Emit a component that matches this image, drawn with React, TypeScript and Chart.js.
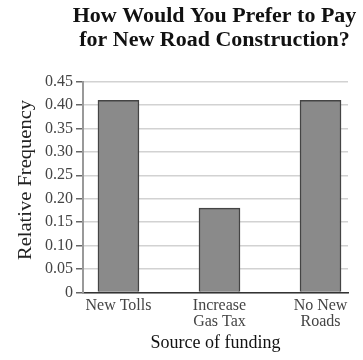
import React, { useEffect, useRef } from "react";
import { Chart, registerables } from "chart.js";

Chart.register(...registerables);

const titleLines = ["How Would You Prefer to Pay", "for New Road Construction?"];
const categories: (string | string[])[] = ["New Tolls", ["Increase", "Gas Tax"], ["No New", "Roads"]];
const frequencies = [0.41, 0.18, 0.41];
const yMax = 0.45;
const yStep = 0.05;
const yAxisTitle = "Relative Frequency";
const xAxisTitle = "Source of funding";

const SERIF = "'Liberation Serif', 'Times New Roman', serif";

const textPlugin = {
  id: "customTexts",
  afterDraw(chart: any) {
    const { ctx, chartArea } = chart;
    const cx = (chartArea.left + chartArea.right) / 2;
    ctx.save();
    ctx.font = `bold 20px ${SERIF}`;
    ctx.fillStyle = "#111";
    ctx.textAlign = "center";
    ctx.textBaseline = "middle";
    titleLines.forEach((t, i) => {
      ctx.save();
      ctx.translate(cx - 1, 17 + i * 24);
      ctx.scale(1.1, 1);
      ctx.fillText(t, 0, 0);
      ctx.restore();
    });
    // y axis title
    ctx.save();
    ctx.font = `19px ${SERIF}`;
    ctx.fillStyle = "#222";
    ctx.translate(26, 180);
    ctx.rotate(-Math.PI / 2);
    ctx.scale(1.08, 1);
    ctx.fillText(yAxisTitle, 0, 0);
    ctx.restore();
    ctx.restore();
  },
};

export default function App() {
  const ref = useRef<HTMLCanvasElement | null>(null);
  useEffect(() => {
    if (!ref.current) return;
    const chart = new Chart(ref.current, {
      type: "bar",
      data: {
        datasets: [
          {
            data: frequencies.map((v, i) => ({ x: i, y: v })),
            backgroundColor: "#8a8a8a",
            borderColor: "#444",
            borderWidth: 1.5,
            barThickness: 41,
          } as any,
        ],
      },
      plugins: [textPlugin],
      options: {
        animation: false,
        responsive: true,
        maintainAspectRatio: false,
        layout: { padding: { top: 81.5, left: 10, right: 15, bottom: 0 } },
        plugins: { legend: { display: false }, tooltip: { enabled: false }, title: { display: false } },
        scales: {
          x: {
            type: "linear",
            offset: false,
            min: -0.351,
            max: 2.272,
            afterBuildTicks: (axis: any) => {
              axis.ticks = categories.map((_, i) => ({ value: i }));
            },
            afterFit: (scale: any) => {
              scale.height = 67.5;
            },
            grid: { display: false, drawTicks: false, offset: false },
            border: { display: true, color: "#333", width: 1.5 },
            ticks: {
              padding: 5,
              maxRotation: 0,
              autoSkip: false,
              color: "#444",
              font: { family: SERIF, size: 16, lineHeight: 1.0 },
              callback: (value: any) => categories[value as number],
            },
            title: {
              display: true,
              text: xAxisTitle,
              color: "#111",
              font: { family: SERIF, size: 18 },
              padding: { top: 0, bottom: 6 },
            },
          },
          y: {
            min: 0,
            max: yMax,
            afterFit: (scale: any) => {
              scale.width = 73;
            },
            grid: { color: "#d2d2d2", lineWidth: 1.5, tickColor: "#666", tickLength: 7 },
            border: { color: "#999", width: 2 },
            ticks: {
              stepSize: yStep,
              padding: 3,
              color: "#444",
              font: { family: SERIF, size: 16 },
              callback: (value: any) => (Number(value) === 0 ? "0" : Number(value).toFixed(2)),
            },
          },
        },
      } as any,
    });
    return () => chart.destroy();
  }, []);
  return (
    <div style={{ position: "absolute", left: 0, top: 0, width: 363, height: 360 }}>
      <canvas ref={ref} />
    </div>
  );
}
